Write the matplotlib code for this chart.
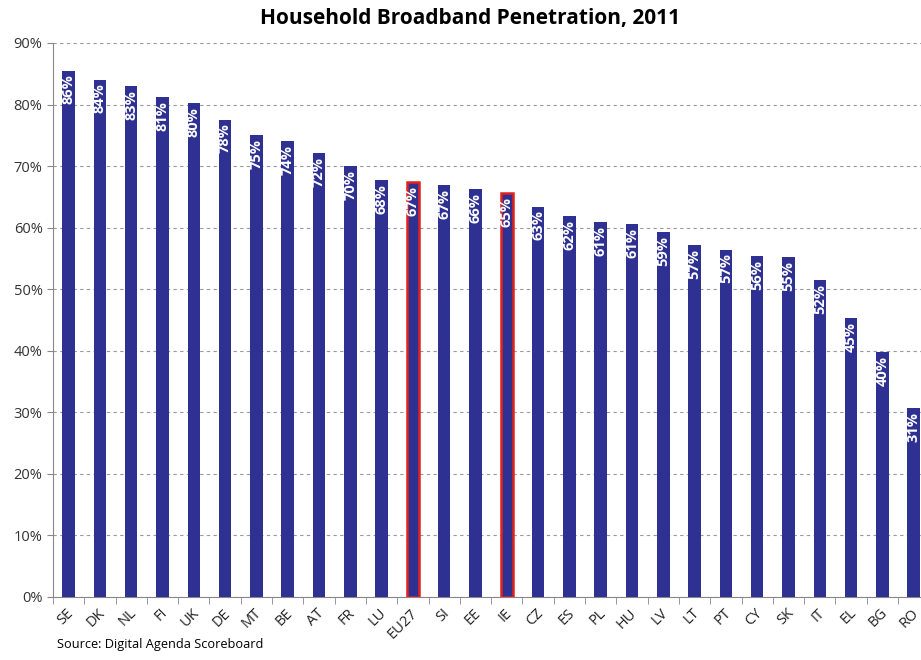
import numpy as np
import matplotlib.pyplot as plt
import matplotlib.transforms as mtransforms

countries = ['SE', 'DK', 'NL', 'FI', 'UK', 'DE', 'MT', 'BE', 'AT', 'FR', 'LU', 'EU27', 'SI', 'EE',
             'IE', 'CZ', 'ES', 'PL', 'HU', 'LV', 'LT', 'PT', 'CY', 'SK', 'IT', 'EL', 'BG', 'RO']
values = [85.5, 84.0, 83.0, 81.2, 80.2, 77.5, 75.0, 74.1, 72.1, 70.0, 67.7, 67.4, 66.9, 66.3,
          65.6, 63.4, 61.9, 60.9, 60.6, 59.3, 57.2, 56.4, 55.4, 55.2, 51.5, 45.3, 39.8, 30.7]
labels = [86, 84, 83, 81, 80, 78, 75, 74, 72, 70, 68, 67, 67, 66,
          65, 63, 62, 61, 61, 59, 57, 57, 56, 55, 52, 45, 40, 31]
highlight = ['EU27', 'IE']

plt.rcParams['font.family'] = ['Open Sans', 'DejaVu Sans']

fig = plt.figure(figsize=(9.21, 6.6), dpi=100)
ax = fig.add_axes([0.0575, 0.0955, 0.9516, 0.8394])

x = np.arange(len(countries))
bar_col = '#2E3192'
edges = ['#E3201B' if c in highlight else bar_col for c in countries]
lws = [1.8 if c in highlight else 0 for c in countries]
ax.bar(x, values, width=0.4, color=bar_col, edgecolor=edges, linewidth=lws, zorder=3)

for xi, v, lab in zip(x, values, labels):
    ax.text(xi, v - 0.6, f'{lab}%', rotation=90, ha='center', va='top',
            color='white', fontsize=10.5, fontweight='bold', zorder=4)

ax.set_xlim(-0.5, len(countries) - 0.5)
ax.set_ylim(0, 90)
ax.set_yticks(np.arange(0, 91, 10))
ax.set_yticklabels([f'{t}%' for t in range(0, 91, 10)], fontsize=10.5, color='#333333')
ax.yaxis.grid(True, linestyle=(0, (3, 3)), color='#999999', linewidth=0.8, zorder=0)

# category labels drawn by hand, nudged left so RO stays inside the figure
ax.set_xticks(x)
ax.set_xticklabels([])
lab_tr = ax.get_xaxis_transform() + mtransforms.ScaledTranslation(2 / 72, -10 / 72, fig.dpi_scale_trans)
for xi, c in zip(x, countries):
    ax.text(xi, 0, c, transform=lab_tr, rotation=45, ha='right', va='center',
            rotation_mode='anchor', fontsize=10.5, color='#222222', clip_on=False)
ax.set_xticks(np.arange(-0.5, len(countries), 1), minor=True)
ax.tick_params(axis='x', which='major', length=0)
ax.tick_params(axis='x', which='minor', length=5, color='#888888')
ax.tick_params(axis='y', length=4, color='#888888')

for s in ['top', 'right']:
    ax.spines[s].set_visible(False)
ax.spines['left'].set_color('#888888')
ax.spines['bottom'].set_color('#888888')

fig.text(0.51, 0.972, 'Household Broadband Penetration, 2011', ha='center', va='center',
         fontsize=15, fontweight='bold')
fig.text(0.062, 0.013, 'Source: Digital Agenda Scoreboard', ha='left', va='bottom', fontsize=9.2)

fig.savefig('out.png', dpi=100)
